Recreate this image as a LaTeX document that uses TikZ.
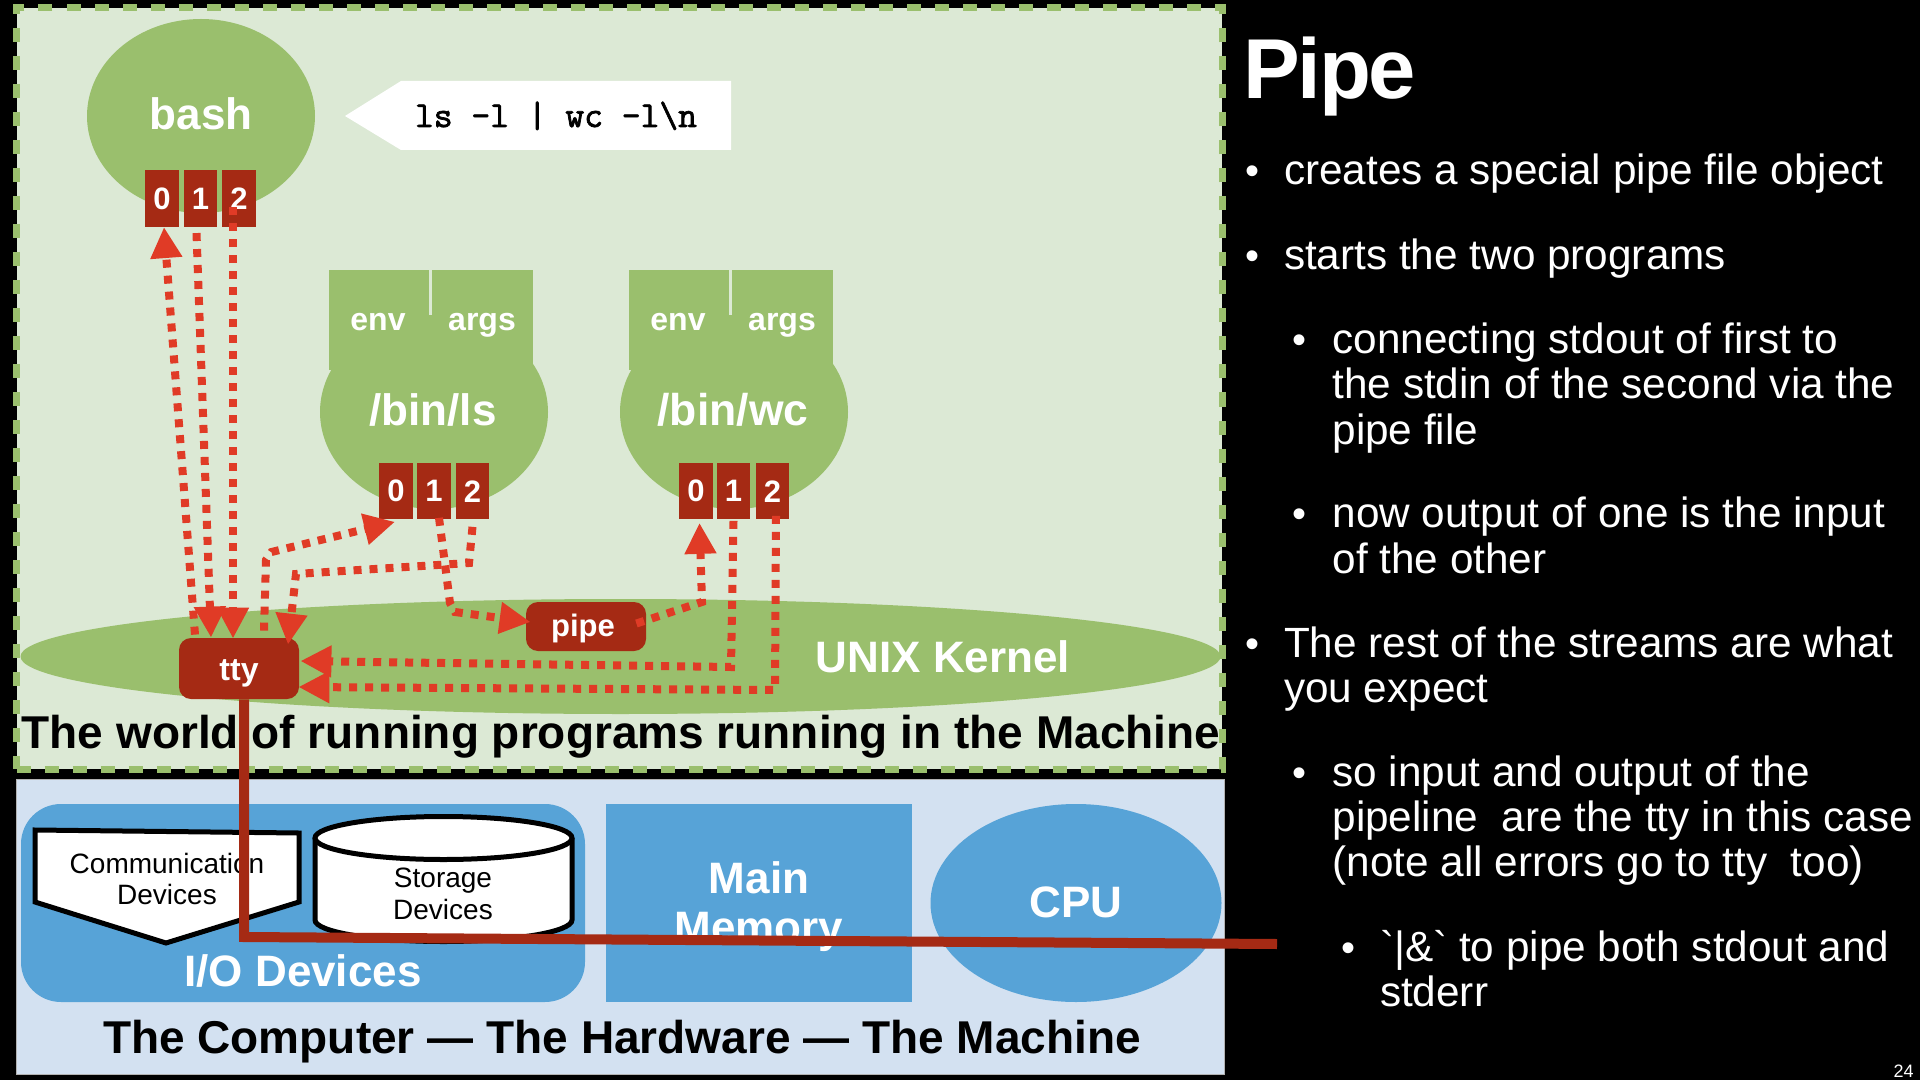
\documentclass[tikz,border=0pt]{standalone}
\usepackage{fontspec}
\usetikzlibrary{arrows.meta,shapes.geometric}
\setmainfont{Liberation Sans}
\newfontfamily\rawsans{Liberation Sans}
\newfontfamily\codefont[FakeBold=2]{Latin Modern Mono}
\definecolor{gr}{HTML}{9ABF6D}
\definecolor{grpanel}{HTML}{DCE9D5}
\definecolor{bl}{HTML}{57A3D7}
\definecolor{blpanel}{HTML}{D3E1F1}
\definecolor{dred}{HTML}{A52A14}
\definecolor{lred}{HTML}{E03B26}
\makeatletter
\newcommand{\fs}[1]{\@tempdima=#1pt \@tempdima=0.5\@tempdima \fontsize{\@tempdima}{1.2\@tempdima}\selectfont}
\makeatother
\tikzset{
  x=0.5pt,y=-0.5pt,
  lbl/.style={anchor=base,inner sep=0pt,outer sep=0pt,align=center},
  wbold/.style={lbl,text=white,font=\bfseries\fs{#1}},
  bbold/.style={lbl,text=black,font=\bfseries\fs{#1}},
  breg/.style={lbl,text=black,font=\fs{#1}},
  body/.style={anchor=base west,inner sep=0pt,outer sep=0pt,text=white,font=\fs{42.3}},
  bul/.style={anchor=base,inner sep=0pt,outer sep=0pt,text=white,font=\fs{40}},
  proc/.style={ellipse,fill=gr,inner sep=0pt,minimum width=114pt,minimum height=97pt},
  fd/.style={rectangle,fill=dred,inner sep=0pt,minimum width=16.75pt,minimum height=28.25pt,text=white,font=\bfseries\fs{31}},
  redbox/.style={rectangle,rounded corners=6pt,fill=dred,inner sep=0pt,text=white,font=\bfseries\fs{32}},
  envbox/.style={rectangle,fill=gr,inner sep=0pt,minimum width=102pt,minimum height=50pt},
  flow/.style={draw=lred,line width=4pt,dash pattern=on 4pt off 4pt,-{Triangle[length=15.5pt,width=15pt]}},
  hwshape/.style={fill=bl,inner sep=0pt},
}
\begin{document}
\begin{tikzpicture}
\useasboundingbox (0,0) rectangle (1920,1080);
\fill[black] (0,0) rectangle (1920,1080);
% panels
\node[rectangle,fill=grpanel,draw=gr,line width=3.5pt,dash pattern=on 7pt off 7pt,inner sep=0pt,minimum width=602.75pt,minimum height=380.5pt] (world) at (619.25,388.5) {};
\node[rectangle,fill=blpanel,draw=gray!60,line width=0.5pt,inner sep=0pt,minimum width=604pt,minimum height=147.5pt] (machine) at (620,926.5) {};
% kernel
\node[ellipse,fill=gr,inner sep=0pt,minimum width=600pt,minimum height=57.5pt] (kernel) at (620.5,656.5) {};
\node[wbold=44] (kernellbl) at (943,672) {UNIX Kernel};
% processes
\node[proc] (bash) at (201,116) {};
\node[wbold=44] (bashlbl) at (201,130) {bash};
\path[fill=white] (345,116) -- (401,81) -- (731,81) -- (731,150) -- (401,150) -- cycle;
\node[lbl,font=\codefont\fs{36.5}] (cmd) at (556,127) {ls -l | wc -l\symbol{92}n};
\node[proc] (ls) at (434,412) {};
\node[envbox] (lsenv) at (431,320) {};
\fill[grpanel] (428.5,270) rectangle (431.5,315);
\node[wbold=32] (lsenvl) at (378,331) {env};
\node[wbold=32] (lsargl) at (482,331) {args};
\node[wbold=44] (lslbl) at (433,425) {/bin/ls};
\node[proc] (wc) at (734,412) {};
\node[envbox] (wcenv) at (731,320) {};
\fill[grpanel] (728.5,270) rectangle (731.5,315);
\node[wbold=32] (wcenvl) at (678,331) {env};
\node[wbold=32] (wcargl) at (782,331) {args};
\node[wbold=44.5] (wclbl) at (733,425) {/bin/wc};
% descriptors
\node[fd] (b0) at (162,198.4) {0};
\node[fd] (b1) at (200.5,198.4) {1};
\node[fd] (b2) at (239,198.4) {2};
\node[fd] (l0) at (396,491.2) {0};
\node[fd] (l1) at (434,491.2) {1};
\node[fd] (l2) at (472.5,491.2) {2};
\node[fd] (w0) at (696,491.2) {0};
\node[fd] (w1) at (733.5,491.2) {1};
\node[fd] (w2) at (772.5,491.2) {2};
% tty, pipe
\node[redbox,minimum width=60pt,minimum height=30.5pt] (tty) at (239,668.5) {};
\node[wbold=32] (ttyl) at (239,680) {tty};
\node[redbox,minimum width=60pt,minimum height=24.5pt] (pipe) at (586,626.5) {};
\node[wbold=31] (pipel) at (583,636) {pipe};
\node[bbold=46] (worldl) at (621,748) {The world of running programs running in the Machine};
% hardware
\node[hwshape,rectangle,rounded corners=20pt,minimum width=282pt,minimum height=99pt] (io) at (303,903) {};
\node[hwshape,rectangle,minimum width=153pt,minimum height=99pt] (mem) at (759,903) {};
\node[hwshape,ellipse,minimum width=145.5pt,minimum height=99pt] (cpu) at (1076,903) {};
\node[wbold=44] (mainl) at (759,893) {Main};
\node[wbold=44] (memoryl) at (759,942) {Memory};
\node[wbold=44] (cpul) at (1076,917) {CPU};
\node[wbold=44] (iol) at (303,986) {I/O Devices};
\draw[black,fill=white,line width=2.5pt,line join=miter] (35,830) -- (299,833) -- (299,902) -- (166,943) -- (35,902) -- cycle;
\node[breg=28] (comml) at (167,873) {Communication};
\node[breg=28] (commd) at (167,904) {Devices};
\draw[black,fill=white,line width=2.5pt] (315,838) -- (315,920) arc[start angle=180,end angle=360,x radius=128.5,y radius=-21.5] -- (572,838);
\draw[black,fill=white,line width=2.5pt] (443.5,838) ellipse[x radius=128.5,y radius=21.5];
\node[breg=28] (stor) at (443,887) {Storage};
\node[breg=28] (stord) at (443,919) {Devices};
\node[bbold=46] (machl) at (622,1053) {The Computer — The Hardware — The Machine};
% tty wire
\coordinate (wirecorner) at (244,937);
\coordinate (wireend) at (1277,944);
\draw[dred,line width=5pt,line join=miter] (tty.south -| wirecorner) -- (wirecorner) -- (wireend);
% flows
\draw[flow] ([shift={(-44,-3)}]tty.north) -- ([shift={(2,0)}]b0.south);
\draw[flow] ([shift={(-4,6)}]b1.south) -- ([shift={(-28,0)}]tty.north);
\draw[flow] ([shift={(-6,-20)}]b2.south) -- ([shift={(-6,1)}]tty.north);
\coordinate (d1) at (266,560);
\coordinate (d2) at (271.5,552);
\draw[flow] ([shift={(25,-7)}]tty.north) -- (d1) -- (d2) -- ([shift={(-1,2)}]l0.south);
\coordinate (e1) at (469,563);
\coordinate (e2) at (296,574);
\draw[flow] ([shift={(0,7)}]l2.south) -- (e1) -- (e2) -- ([shift={(49,7)}]tty.north);
\coordinate (f1) at (450,603);
\coordinate (f2) at (455,612);
\draw[flow] ([shift={(5,-2)}]l1.south) -- (f1) -- (f2) -- ([shift={(5,-4.5)}]pipe.west);
\coordinate (g1) at (702,602);
\draw[flow] ([shift={(-10,-3)}]pipe.east) -- (g1) -- ([shift={(3.5,3)}]w0.south);
\coordinate (h1) at (731,667);
\draw[flow] ([shift={(0,1)}]w1.south) -- (h1) -- ([shift={(1,-7.5)}]tty.east);
\coordinate (i1) at (775,690);
\draw[flow] ([shift={(3.5,-4)}]w2.south) -- (i1) -- ([shift={(-1,18.5)}]tty.east);
% right column
\node[anchor=base west,inner sep=0pt,text=white,font=\bfseries\fs{85}\addfontfeature{LetterSpace=-2.8}] (title) at (1243,99) {Pipe};
\node[bul] (b1a) at (1252,185) {•};
\node[body] (t1) at (1284,185) {creates a special pipe file object};
\node[bul] (b2a) at (1252,269.5) {•};
\node[body] (t2) at (1284,269.5) {starts the two programs};
\node[bul] (b3a) at (1299.5,353.5) {•};
\node[body] (t3) at (1332.5,353.5) {connecting stdout of first to};
\node[body] (t4) at (1332.5,398.5) {the stdin of the second via the};
\node[body] (t5) at (1332.5,444) {pipe file};
\node[bul] (b4a) at (1299.5,527.5) {•};
\node[body] (t6) at (1332.5,527.5) {now output of one is the input};
\node[body] (t7) at (1332.5,573) {of the other};
\node[bul] (b5a) at (1252,657) {•};
\node[body] (t8) at (1284,657) {The rest of the streams are what};
\node[body] (t9) at (1284,702) {you expect};
\node[bul] (b6a) at (1299.5,786) {•};
\node[body] (t10) at (1332.5,786) {so input and output of the};
\node[body] (t11) at (1332.5,831) {pipeline\ \ are the tty in this case};
\node[body] (t12) at (1332.5,876) {(note all errors go to tty\ \ too)};
\node[bul] (b7a) at (1348,961) {•};
\node[body] (t13) at (1380,961) {{\rawsans`}|\&{\rawsans`} to pipe both stdout and};
\node[body] (t14) at (1380,1006) {stderr};
\node[anchor=base east,inner sep=0pt,text=white,font=\fs{18}] (pagenum) at (1914,1077) {24};
\end{tikzpicture}
\end{document}
